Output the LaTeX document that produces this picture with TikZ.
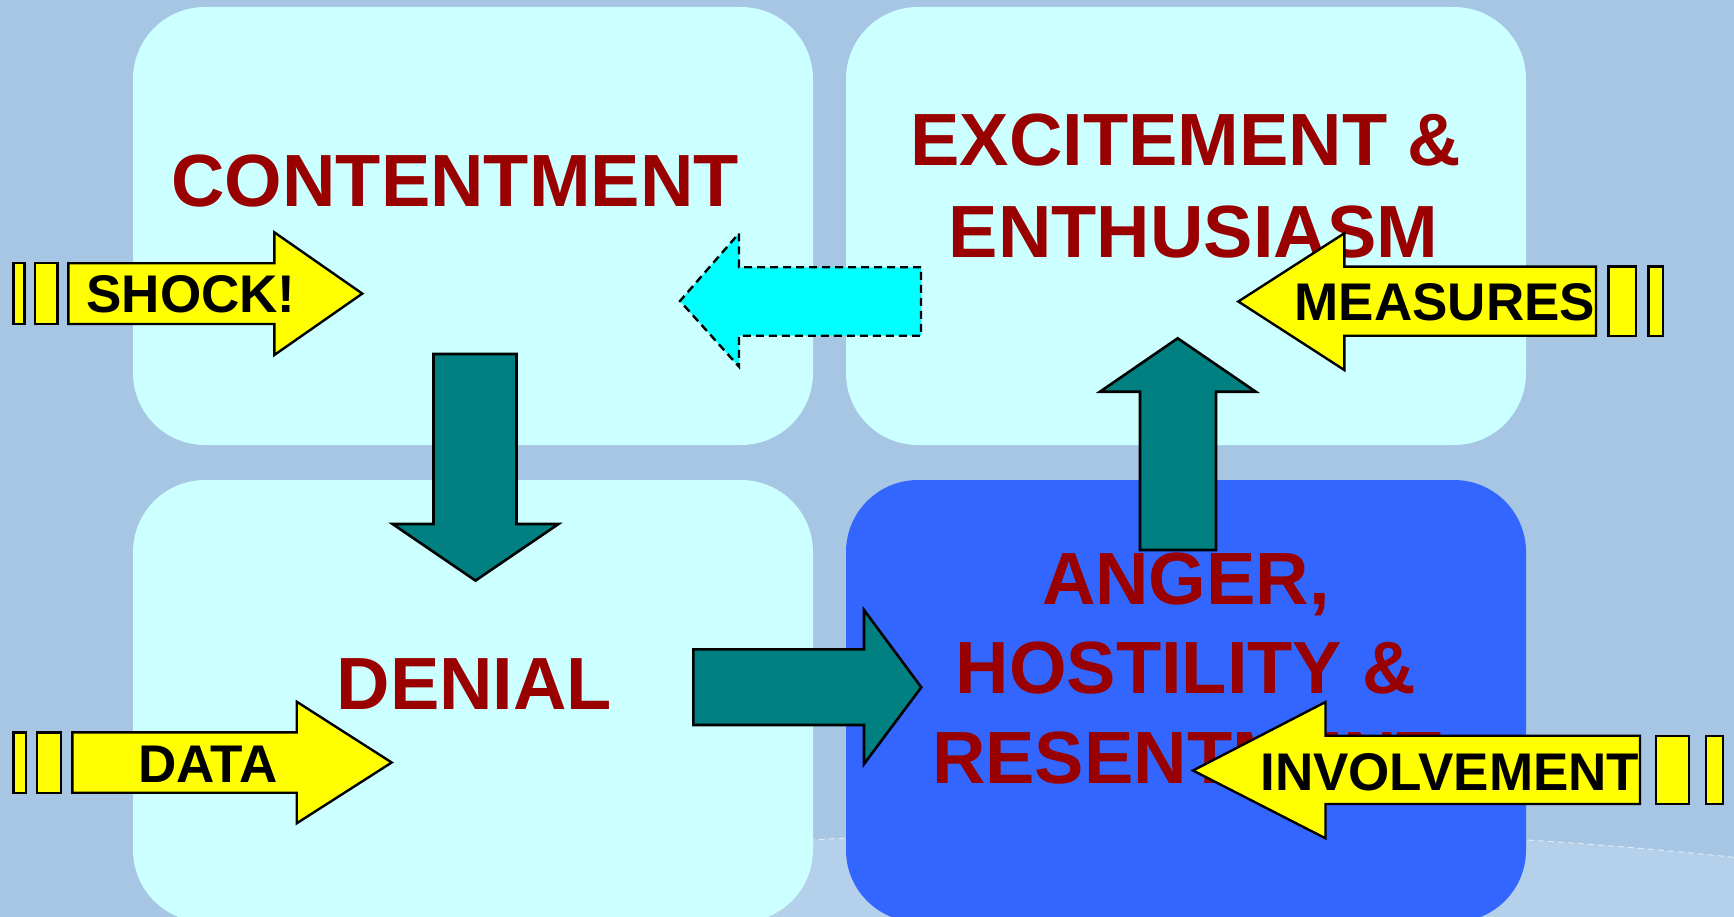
\documentclass[tikz,border=0pt]{standalone}
\usepackage{fontspec}
\setmainfont{Liberation Sans}
\definecolor{bgblue}{HTML}{A6C6E3}
\definecolor{bglight}{HTML}{B4D0EA}
\definecolor{boxcyan}{HTML}{CCFFFF}
\definecolor{boxblue}{HTML}{3366FF}
\definecolor{darkred}{HTML}{990000}
\definecolor{tealfill}{HTML}{008080}
\definecolor{yellowfill}{HTML}{FFFF00}
\definecolor{cyanfill}{HTML}{00FFFF}
\begin{document}
\begin{tikzpicture}[x=1pt,y=-1pt,
  stagebox/.style={rounded corners=72pt},
  yarrow/.style={fill=yellowfill, draw=black, line width=2.4pt},
  tarrow/.style={fill=tealfill, draw=black, line width=2.6pt},
  carrow/.style={fill=cyanfill, draw=black, line width=2.4pt, dash pattern=on 8pt off 5pt},
  title/.style={text=darkred, font=\fontsize{74}{80}\selectfont\bfseries, anchor=base, inner sep=0pt},
  lab/.style={text=black, font=\fontsize{53}{60}\selectfont\bfseries, anchor=base, inner sep=0pt}]
\useasboundingbox (0,0) rectangle (1734,917);
\begin{scope}
\clip (0,0) rectangle (1734,917);
\fill[bgblue] (0,0) rectangle (1734,917);
\fill[bglight] (1170,1116) ellipse [x radius=1300, y radius=287];
\draw[white, line width=1pt, dash pattern=on 6pt off 4pt, opacity=0.6] (1170,1116) ellipse [x radius=1300, y radius=287];
% boxes
\fill[boxcyan, stagebox] (133,7) rectangle (813,445);
\fill[boxcyan, stagebox] (846,7) rectangle (1526,445);
\fill[boxcyan, stagebox] (133,480) rectangle (813,922);
\fill[boxblue, stagebox] (846,480) rectangle (1526,922);
\end{scope}
% titles
\node[title] (contentment) at (455,206.8) {CONTENTMENT};
\node[title] (excite) at (1186,166) {EXCITEMENT \&};
\node[title] (enthus) at (1193.5,257.7) {ENTHUSIASM};
\node[title] (denial) at (474.3,709) {DENIAL};
\node[title] (anger) at (1186,604) {ANGER,};
\node[title] (hostility) at (1186,693) {HOSTILITY \&};
\node[title] (resent) at (1187,783) {RESENTMENT};
% teal arrows
\draw[tarrow] (433.5,354)--(516.5,354)--(516.5,524)--(558.5,524)--(475.5,580.6)--(392.6,524)--(433.5,524)--cycle;
\draw[tarrow] (693.3,649.3)--(864,649.3)--(864,610)--(921.3,687.3)--(864,764)--(864,725)--(693.3,725)--cycle;
\draw[tarrow] (1140,550)--(1140,391.7)--(1100,391.7)--(1177.7,338.3)--(1255.7,391.7)--(1216,391.7)--(1216,550)--cycle;
% cyan dashed arrow
\draw[carrow] (921,267.3)--(739,267.3)--(739,233.3)--(680,301)--(739,366.7)--(739,335.7)--(921,335.7)--cycle;
% yellow arrows
\draw[yarrow] (13.3,263.3) rectangle (24.3,324);
\draw[yarrow] (35,263.3) rectangle (57.3,324);
\draw[yarrow] (68.3,263.3)--(274.3,263.3)--(274.3,232.3)--(362.3,293.6)--(274.3,355)--(274.3,324)--(68.3,324)--cycle;
\node[lab] (shock) at (191,312.7) {SHOCK!};
\draw[yarrow] (13.3,732.3) rectangle (26,792.7);
\draw[yarrow] (36.7,732.3) rectangle (61,792.7);
\draw[yarrow] (72.3,732.3)--(296.7,732.3)--(296.7,701.7)--(391.7,762.5)--(296.7,823.3)--(296.7,792.7)--(72.3,792.7)--cycle;
\node[lab] (data) at (208,782.7) {DATA};
\draw[yarrow] (1596,266.7)--(1344.3,266.7)--(1344.3,233.3)--(1238.3,301.5)--(1344.3,370)--(1344.3,335.7)--(1596,335.7)--cycle;
\draw[yarrow] (1608.3,266.7) rectangle (1635.7,335.7);
\draw[yarrow] (1648.3,266.7) rectangle (1662.7,335.7);
\node[lab] (measures) at (1445,320.7) {MEASURES};
\draw[yarrow] (1640,735.7)--(1325.5,735.7)--(1325.5,702)--(1193,770.5)--(1325.5,838.3)--(1325.5,804)--(1640,804)--cycle;
\draw[yarrow] (1656,735.7) rectangle (1688.8,804);
\draw[yarrow] (1705.8,735.7) rectangle (1723,804);
\node[lab] (involvement) at (1449.7,790) {INVOLVEMENT};
\end{tikzpicture}
\end{document}
